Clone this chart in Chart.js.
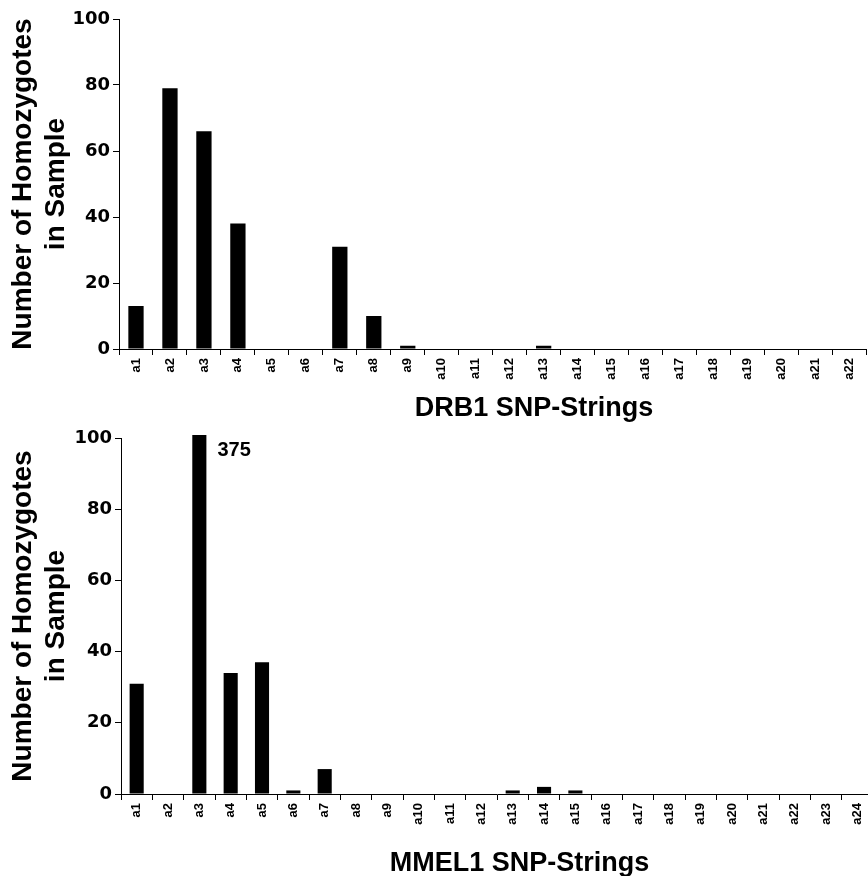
<!DOCTYPE html>
<html>
<head>
<meta charset="utf-8">
<script src="https://cdn.jsdelivr.net/npm/chart.js@4"></script>
<style>
  html, body { margin: 0; padding: 0; background: #fff; overflow: hidden; }
  #wrap { position: relative; width: 868px; height: 876px; overflow: hidden; }
  canvas { position: absolute; left: 0; }
  #drb1Chart { top: 0; }
  #mmel1Chart { top: 420px; }
</style>
</head>
<body>
<div id="wrap">
  <canvas id="drb1Chart" width="868" height="425"></canvas>
  <canvas id="mmel1Chart" width="876" height="460"></canvas>
</div>
<script>
const drb1Labels = ['a1', 'a2', 'a3', 'a4', 'a5', 'a6', 'a7', 'a8', 'a9', 'a10', 'a11',
  'a12', 'a13', 'a14', 'a15', 'a16', 'a17', 'a18', 'a19', 'a20', 'a21', 'a22'];
const drb1Counts = [13, 79, 66, 38, 0, 0, 31, 10, 1, 0, 0, 0, 1, 0, 0, 0, 0, 0, 0, 0, 0, 0];

const mmel1Labels = ['a1', 'a2', 'a3', 'a4', 'a5', 'a6', 'a7', 'a8', 'a9', 'a10', 'a11', 'a12',
  'a13', 'a14', 'a15', 'a16', 'a17', 'a18', 'a19', 'a20', 'a21', 'a22', 'a23', 'a24'];
const mmel1Counts = [31, 0, 375, 34, 37, 1, 7, 0, 0, 0, 0, 0, 1, 2, 1, 0, 0, 0, 0, 0, 0, 0, 0, 0];

const yMax = 100;
const yStep = 20;

Chart.defaults.font.family = "'Liberation Sans', Arial, sans-serif";
Chart.defaults.color = '#000';

// bar taller than the axis gets its real value written beside it
const overflowLabel = {
  id: 'overflowLabel',
  afterDatasetsDraw(chart) {
    const ctx = chart.ctx;
    const yScale = chart.scales.y;
    const values = chart.data.datasets[0].data;
    chart.getDatasetMeta(0).data.forEach((bar, i) => {
      if (values[i] <= yScale.max) return;
      ctx.save();
      ctx.font = "bold 20px 'Liberation Sans', Arial, sans-serif";
      ctx.fillStyle = '#000';
      ctx.textAlign = 'left';
      ctx.textBaseline = 'middle';
      ctx.fillText(String(values[i]), bar.x + bar.width / 2 + 11, chart.chartArea.top + 12);
      ctx.restore();
    });
  }
};

function makeChart(id, labels, counts, xTitle, yWidth, xHeight, topPad) {
  return new Chart(document.getElementById(id), {
    type: 'bar',
    data: {
      labels: labels,
      datasets: [{
        data: counts,
        backgroundColor: '#000',
        borderWidth: 0,
        barPercentage: 0.45,
        categoryPercentage: 1,
        clip: { left: 0, top: 3, right: 0, bottom: 0 },
      }],
    },
    options: {
      responsive: false,
      animation: false,
      layout: { padding: { top: topPad, right: 0, bottom: 0, left: 0 } },
      plugins: {
        legend: { display: false },
        tooltip: { enabled: false },
      },
      scales: {
        x: {
          offset: true,
          grid: { drawOnChartArea: false, offset: true, color: '#000', tickLength: 6 },
          border: { color: '#000' },
          ticks: {
            autoSkip: false,
            minRotation: 90,
            maxRotation: 90,
            padding: 3,
            font: { size: 13, weight: 'bold' },
          },
          title: {
            display: true,
            text: xTitle,
            font: { size: 27, weight: 'bold', lineHeight: 1.2 },
            padding: 0,
          },
          afterFit(scale) { scale.height = xHeight; },
        },
        y: {
          min: 0,
          max: yMax,
          ticks: {
            stepSize: yStep,
            padding: 3,
            font: { family: "'DejaVu Sans', sans-serif", size: 18, weight: 'bold' },
          },
          grid: { drawOnChartArea: false, color: '#000', tickLength: 6 },
          border: { color: '#000' },
          title: {
            display: true,
            text: ['Number of Homozygotes', 'in Sample'],
            font: { size: 28, weight: 'bold', lineHeight: 1.18 },
            padding: { top: 7, bottom: 0 },
          },
          afterFit(scale) { scale.width = yWidth; },
        },
      },
    },
    plugins: [overflowLabel],
  });
}

// leading spaces push the axis titles right of the plot centre, as in the figure
makeChart('drb1Chart', drb1Labels, drb1Counts, '           DRB1 SNP-Strings', 119, 76, 19);
makeChart('mmel1Chart', mmel1Labels, mmel1Counts, '      MMEL1 SNP-Strings', 121, 86, 18);
</script>
</body>
</html>
